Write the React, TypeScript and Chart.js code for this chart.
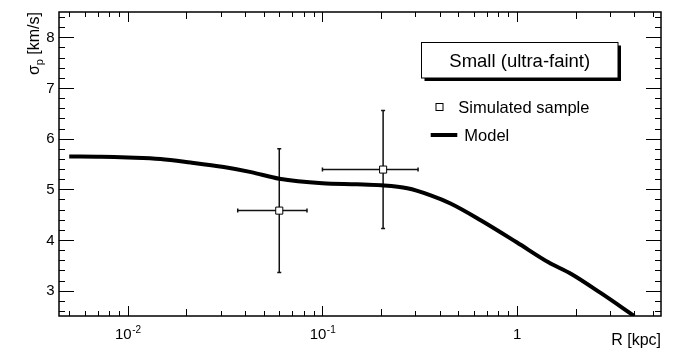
import React, { useEffect, useRef } from "react";
import { Chart, registerables } from "chart.js";

Chart.register(...registerables);

// ---- data ----
const modelR = [0.005, 0.0073, 0.01, 0.0147, 0.021, 0.0311, 0.043, 0.06, 0.1, 0.15, 0.2, 0.273, 0.36, 0.455, 0.65, 1.0, 1.45, 1.9, 2.7, 4.0];
const modelSigma = [5.65, 5.645, 5.63, 5.6, 5.53, 5.44, 5.34, 5.21, 5.12, 5.1, 5.08, 5.02, 4.88, 4.72, 4.39, 3.95, 3.56, 3.33, 2.95, 2.5];

const sampleR = [0.06, 0.205];
const sampleSigma = [4.58, 5.39];
const sampleRErr = [0.0233, 0.105];
const sampleSigmaErr = [1.22, 1.165];

const yTickValues = [3, 4, 5, 6, 7, 8];
const yTickLabels = ["3", "4", "5", "6", "7", "8"];
const xTickValues = [0.01, 0.1, 1];
const xTickBases = ["10", "10", "1"];
const xTickExps = ["-2", "-1", ""];

const legendTitle = "Small (ultra-faint)";
const seriesNames = ["Simulated sample", "Model"];
const xAxisTitle = "R [kpc]";
const yAxisSymbol = "σ";
const yAxisSub = "p";
const yAxisUnit = " [km/s]";

const xMin = 0.00443;
const xMax = 5.49;
const yMin = 2.5;
const yMax = 8.5;

const FONT = '"Liberation Sans", Arial, Helvetica, sans-serif';

const bgPlugin = {
  id: "bg",
  beforeDraw(chart: any) {
    const ctx = chart.ctx;
    ctx.save();
    ctx.fillStyle = "#fff";
    ctx.fillRect(0, 0, chart.width, chart.height);
    ctx.restore();
  },
};

const errorBarPlugin = {
  id: "errbars",
  beforeDatasetsDraw(chart: any) {
    const ctx = chart.ctx;
    const xs = chart.scales.x;
    const ys = chart.scales.y;
    ctx.save();
    ctx.strokeStyle = "#111";
    ctx.lineWidth = 1.5;
    for (let i = 0; i < sampleR.length; i++) {
      const px = xs.getPixelForValue(sampleR[i]);
      const py = ys.getPixelForValue(sampleSigma[i]);
      const x1 = xs.getPixelForValue(sampleR[i] - sampleRErr[i]);
      const x2 = xs.getPixelForValue(sampleR[i] + sampleRErr[i]);
      const y1 = ys.getPixelForValue(sampleSigma[i] - sampleSigmaErr[i]);
      const y2 = ys.getPixelForValue(sampleSigma[i] + sampleSigmaErr[i]);
      ctx.beginPath();
      ctx.moveTo(x1, py);
      ctx.lineTo(x2, py);
      ctx.moveTo(px, y1);
      ctx.lineTo(px, y2);
      // caps
      ctx.moveTo(x1, py - 2);
      ctx.lineTo(x1, py + 2);
      ctx.moveTo(x2, py - 2);
      ctx.lineTo(x2, py + 2);
      ctx.moveTo(px - 2, y1);
      ctx.lineTo(px + 2, y1);
      ctx.moveTo(px - 2, y2);
      ctx.lineTo(px + 2, y2);
      ctx.stroke();
    }
    ctx.restore();
  },
};

const framePlugin = {
  id: "frame",
  afterDraw(chart: any) {
    const ctx = chart.ctx;
    const { left, right, top, bottom } = chart.chartArea;
    const xs = chart.scales.x;
    const ys = chart.scales.y;
    ctx.save();
    ctx.strokeStyle = "#000";
    ctx.lineWidth = 1;
    ctx.beginPath();
    // y ticks
    for (let k = Math.ceil(yMin * 5); k <= Math.floor(yMax * 5); k++) {
      const v = k / 5;
      const major = k % 5 === 0;
      const len = major ? 15 : 6;
      const py = Math.round(ys.getPixelForValue(v)) + 0.5;
      ctx.moveTo(left, py);
      ctx.lineTo(left + len, py);
      ctx.moveTo(right, py);
      ctx.lineTo(right - len, py);
    }
    // x ticks (log)
    for (let n = -3; n <= 1; n++) {
      for (let m = 1; m <= 9; m++) {
        const v = m * Math.pow(10, n);
        if (v < xMin || v > xMax) continue;
        const len = m === 1 ? 10 : m === 2 ? 7 : 5;
        const px = Math.round(xs.getPixelForValue(v)) + 0.5;
        ctx.moveTo(px, bottom);
        ctx.lineTo(px, bottom - len);
        ctx.moveTo(px, top);
        ctx.lineTo(px, top + len);
      }
    }
    ctx.stroke();

    // frame
    ctx.lineWidth = 1.5;
    ctx.strokeRect(left, top, right - left, bottom - top);

    // y tick labels
    ctx.fillStyle = "#000";
    ctx.font = `15px ${FONT}`;
    ctx.textAlign = "right";
    ctx.textBaseline = "middle";
    yTickValues.forEach((v, i) => {
      ctx.fillText(yTickLabels[i], left - 4.5, ys.getPixelForValue(v) + 0.5);
    });

    // x tick labels with superscripts
    ctx.textBaseline = "alphabetic";
    xTickValues.forEach((v, i) => {
      const px = xs.getPixelForValue(v);
      ctx.font = `15px ${FONT}`;
      const wb = ctx.measureText(xTickBases[i]).width;
      ctx.font = `10px ${FONT}`;
      const we = xTickExps[i] ? ctx.measureText(xTickExps[i]).width : 0;
      const start = px - (wb + we) / 2;
      ctx.textAlign = "left";
      ctx.font = `15px ${FONT}`;
      ctx.fillText(xTickBases[i], start, 339);
      if (xTickExps[i]) {
        ctx.font = `10px ${FONT}`;
        ctx.fillText(xTickExps[i], start + wb + 0.5, 332.5);
      }
    });

    // x axis title
    ctx.font = `16px ${FONT}`;
    ctx.textAlign = "right";
    ctx.fillText(xAxisTitle, right, 344.5);

    // y axis title (rotated)
    ctx.save();
    ctx.translate(39.3, top);
    ctx.rotate(-Math.PI / 2);
    ctx.textAlign = "left";
    ctx.font = `16px ${FONT}`;
    const wSym = ctx.measureText(yAxisSymbol).width;
    const wUnit = ctx.measureText(yAxisUnit).width;
    ctx.font = `11px ${FONT}`;
    const wSub = ctx.measureText(yAxisSub).width;
    const total = wSym + wSub + wUnit;
    let cx = -total;
    ctx.font = `16px ${FONT}`;
    ctx.fillText(yAxisSymbol, cx, 0);
    cx += wSym;
    ctx.font = `11px ${FONT}`;
    ctx.fillText(yAxisSub, cx, 3.5);
    cx += wSub;
    ctx.font = `16px ${FONT}`;
    ctx.fillText(yAxisUnit, cx, 0);
    ctx.restore();

    // legend
    const bx = 421.5, by = 42.5, bw = 196.5, bh = 35.5;
    ctx.fillStyle = "#000";
    ctx.fillRect(bx + 3, by + 3, bw, bh);
    ctx.fillStyle = "#fff";
    ctx.fillRect(bx, by, bw, bh);
    ctx.lineWidth = 1;
    ctx.strokeStyle = "#000";
    ctx.strokeRect(bx, by, bw, bh);
    ctx.fillStyle = "#000";
    ctx.font = `18.5px ${FONT}`;
    ctx.textAlign = "center";
    ctx.fillText(legendTitle, bx + bw / 2, 66.7);

    // entry 1: square marker
    ctx.fillStyle = "#fff";
    ctx.fillRect(436, 103.5, 7, 7);
    ctx.strokeStyle = "#000";
    ctx.lineWidth = 1;
    ctx.strokeRect(436, 103.5, 7, 7);
    ctx.fillStyle = "#000";
    ctx.textAlign = "left";
    ctx.font = `16.5px ${FONT}`;
    ctx.fillText(seriesNames[0], 458.3, 112.7);

    // entry 2: model line
    ctx.lineWidth = 4;
    ctx.beginPath();
    ctx.moveTo(430.7, 135);
    ctx.lineTo(457.3, 135);
    ctx.stroke();
    ctx.fillText(seriesNames[1], 464.3, 140.8);

    ctx.restore();
  },
};

export default function App() {
  const canvasRef = useRef<HTMLCanvasElement | null>(null);

  useEffect(() => {
    document.body.style.margin = "0";
    const canvas = canvasRef.current;
    if (!canvas) return;
    const chart = new Chart(canvas, {
      type: "scatter",
      data: {
        datasets: [
          {
            type: "scatter",
            label: seriesNames[0],
            data: sampleR.map((r, i) => ({ x: r, y: sampleSigma[i] })),
            pointStyle: "rect",
            pointRadius: 5,
            pointBackgroundColor: "#fff",
            pointBorderColor: "#000",
            pointBorderWidth: 1,
          },
          {
            type: "line",
            label: seriesNames[1],
            data: modelR.map((r, i) => ({ x: r, y: modelSigma[i] })),
            borderColor: "#000",
            borderWidth: 4,
            pointRadius: 0,
            fill: false,
            cubicInterpolationMode: "monotone",
          } as any,
        ],
      },
      options: {
        animation: false,
        responsive: false,
        devicePixelRatio: 1,
        events: [],
        layout: { padding: { left: 59, right: 14, top: 12, bottom: 33 } },
        plugins: { legend: { display: false }, tooltip: { enabled: false } },
        scales: {
          x: { type: "logarithmic", min: xMin, max: xMax, display: false },
          y: { type: "linear", min: yMin, max: yMax, display: false },
        },
      },
      plugins: [bgPlugin, errorBarPlugin, framePlugin],
    });
    return () => chart.destroy();
  }, []);

  return (
    <div style={{ width: 675, height: 349 }}>
      <canvas ref={canvasRef} width={675} height={349} style={{ display: "block" }} />
    </div>
  );
}
